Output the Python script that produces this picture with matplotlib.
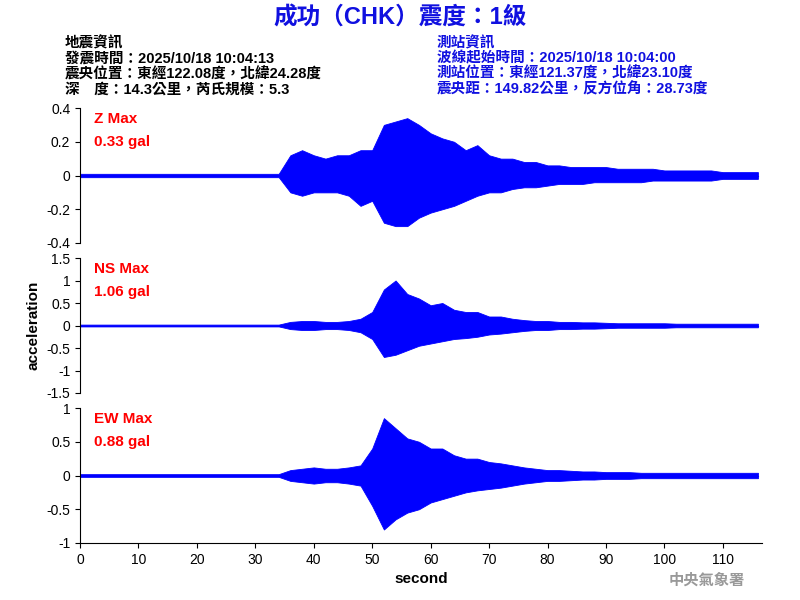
import numpy as np
import matplotlib
matplotlib.use("Agg")
import matplotlib.pyplot as plt

plt.rcParams['font.family'] = ['Liberation Sans', 'Noto Sans CJK TC', 'DejaVu Sans']

t = np.arange(0, 118, 2)
quiet = [0.01]*18
z_up = quiet + [0.12,0.15,0.12,0.10,0.12,0.12,0.15,0.15,0.30,0.32,0.34,0.30,0.25,0.22,0.20,0.15,0.18,0.12,0.10,0.10,0.08,0.08,0.06,0.06,0.05,0.05,0.05,0.05,0.04,0.04,0.04,0.04,0.03,0.03,0.03,0.03,0.03,0.02,0.02,0.02,0.02]
z_lo = [-0.01]*18 + [-0.10,-0.12,-0.10,-0.10,-0.10,-0.12,-0.18,-0.15,-0.28,-0.30,-0.30,-0.25,-0.22,-0.20,-0.18,-0.15,-0.12,-0.10,-0.10,-0.08,-0.07,-0.07,-0.06,-0.05,-0.05,-0.05,-0.04,-0.04,-0.04,-0.04,-0.04,-0.03,-0.03,-0.03,-0.03,-0.03,-0.03,-0.02,-0.02,-0.02,-0.02]
ns_up = [0.02]*18 + [0.08,0.10,0.10,0.08,0.08,0.10,0.15,0.30,0.80,1.00,0.70,0.60,0.45,0.50,0.35,0.30,0.30,0.20,0.20,0.15,0.12,0.10,0.10,0.08,0.08,0.07,0.07,0.06,0.05,0.05,0.05,0.05,0.05,0.04,0.04,0.04,0.04,0.04,0.04,0.04,0.04]
ns_lo = [-0.02]*18 + [-0.08,-0.10,-0.10,-0.08,-0.08,-0.10,-0.15,-0.30,-0.70,-0.65,-0.55,-0.45,-0.40,-0.35,-0.30,-0.28,-0.25,-0.20,-0.18,-0.15,-0.12,-0.10,-0.10,-0.08,-0.08,-0.07,-0.07,-0.06,-0.05,-0.05,-0.05,-0.05,-0.05,-0.04,-0.04,-0.04,-0.04,-0.04,-0.04,-0.04,-0.04]
ew_up = [0.02]*18 + [0.08,0.10,0.12,0.10,0.10,0.12,0.15,0.40,0.85,0.70,0.55,0.50,0.40,0.40,0.30,0.25,0.25,0.20,0.18,0.15,0.12,0.10,0.08,0.08,0.07,0.06,0.06,0.05,0.05,0.05,0.04,0.04,0.04,0.04,0.04,0.04,0.04,0.04,0.04,0.04,0.04]
ew_lo = [-0.02]*18 + [-0.08,-0.10,-0.12,-0.10,-0.10,-0.12,-0.15,-0.45,-0.80,-0.65,-0.55,-0.50,-0.40,-0.35,-0.30,-0.25,-0.22,-0.20,-0.18,-0.15,-0.12,-0.10,-0.08,-0.08,-0.07,-0.06,-0.06,-0.05,-0.05,-0.05,-0.04,-0.04,-0.04,-0.04,-0.04,-0.04,-0.04,-0.04,-0.04,-0.04,-0.04]

labels = ["Z Max", "NS Max", "EW Max"]
maxes = ["0.33 gal", "1.06 gal", "0.88 gal"]
lims = [0.4, 1.5, 1.0]
ticks = [np.arange(-0.4, 0.41, 0.2), np.arange(-1.5, 1.51, 0.5), np.arange(-1, 1.01, 0.5)]
tlabs = [["-0.4","-0.2","0","0.2","0.4"], ["-1.5","-1","-0.5","0","0.5","1","1.5"], ["-1","-0.5","0","0.5","1"]]
ups = [z_up, ns_up, ew_up]
los = [z_lo, ns_lo, ew_lo]

fig = plt.figure(figsize=(8, 6), dpi=100)
W, H = 800, 600
tops = [108, 258, 408]
for i in range(3):
    ax = fig.add_axes([80/W, 1-(tops[i]+135)/H, 682/W, 135/H])
    ax.fill_between(t, los[i], ups[i], color='blue', lw=0.6)
    ax.plot(t, np.zeros_like(t, dtype=float), color='blue', lw=0.8)
    ax.set_xlim(0, 116.7)
    ax.set_ylim(-lims[i], lims[i])
    ax.set_yticks(ticks[i]); ax.set_yticklabels(tlabs[i], fontsize=10)
    for s in ['top', 'right']:
        ax.spines[s].set_visible(False)
    if i < 2:
        ax.spines['bottom'].set_visible(False)
        ax.set_xticks([])
    else:
        ax.set_xticks(range(0, 111, 10))
        ax.tick_params(axis='x', labelsize=10)
        ax.set_xlabel("second", fontsize=11, fontweight='bold')
    ax.text(0.02, 0.97, labels[i], transform=ax.transAxes, color='red', fontsize=11, va='top', fontweight='bold')
    ax.text(0.02, 0.80, maxes[i], transform=ax.transAxes, color='red', fontsize=11, va='top', fontweight='bold')
    if i == 1:
        ax.set_ylabel("acceleration", fontsize=11, fontweight='bold')

fig.text(0.5, 1-18/H, "成功（CHK）震度：1級", color='#1010e0', fontsize=17, fontweight='bold', ha='center', va='center')
left = ["地震資訊", "發震時間：2025/10/18 10:04:13", "震央位置：東經122.08度，北緯24.28度", "深　度：14.3公里，芮氏規模：5.3"]
right = ["測站資訊", "波線起始時間：2025/10/18 10:04:00", "測站位置：東經121.37度，北緯23.10度", "震央距：149.82公里，反方位角：28.73度"]
for k in range(4):
    y = 1-(43+k*15.5)/H
    fig.text(65/W, y, left[k], fontsize=10.5, va='center', color='black', fontweight='bold')
    fig.text(437/W, y, right[k], fontsize=10.5, va='center', color='#1010e0', fontweight='bold')
fig.text(745/W, 1-581/H, "中央氣象署", color='#999999', fontsize=11, ha='right', va='center', fontweight='bold')
fig.savefig("out.png", dpi=100)
